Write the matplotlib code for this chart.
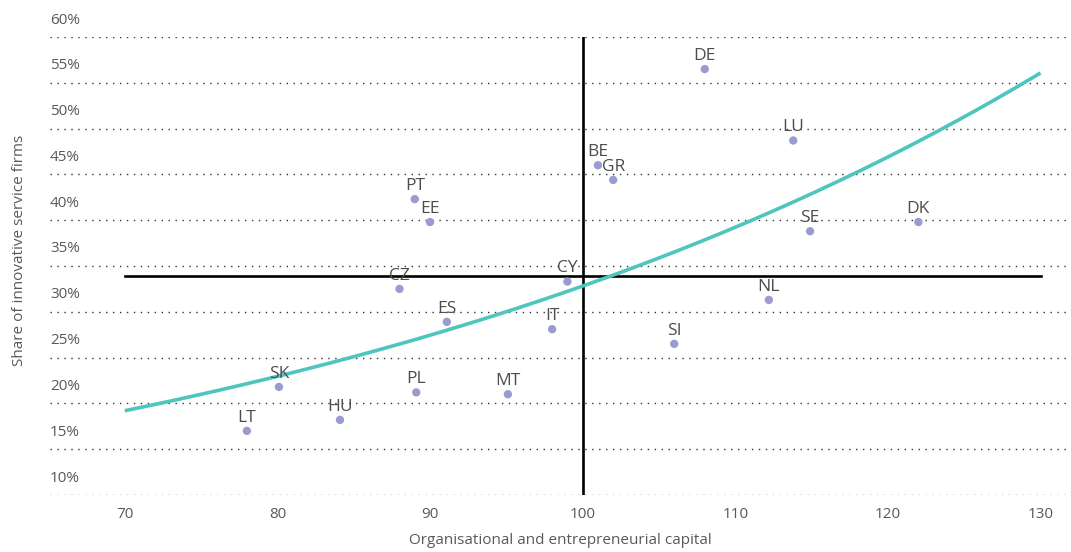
import matplotlib
matplotlib.use("Agg")
import matplotlib.pyplot as plt
import matplotlib.transforms as mtransforms
import numpy as np

# data
countries = ["DE", "LU", "BE", "GR", "PT", "EE", "SE", "DK", "CY", "CZ",
             "NL", "ES", "IT", "SI", "SK", "PL", "MT", "HU", "LT"]
org_capital = [108.0, 113.8, 101.0, 102.0, 89.0, 90.0, 114.9, 122.0, 99.0, 88.0,
               112.2, 91.1, 98.0, 106.0, 80.1, 89.1, 95.1, 84.1, 78.0]
innov_share = [56.5, 48.7, 46.0, 44.4, 42.3, 39.8, 38.8, 39.8, 33.3, 32.5,
               31.3, 28.9, 28.1, 26.5, 21.8, 21.2, 21.0, 18.2, 17.0]
y_ticks = [10, 15, 20, 25, 30, 35, 40, 45, 50, 55, 60]
x_ticks = [70, 80, 90, 100, 110, 120, 130]
x_ref = 100
y_ref = 33.9

plt.rcParams['font.family'] = ['Open Sans', 'DejaVu Sans']
text_col = "#595959"

fig = plt.figure(figsize=(10.71, 5.52), dpi=100)
ax = fig.add_axes([50 / 1071, 57 / 552, 1018 / 1071, 458 / 552])
ax.set_xlim(65.1, 131.8)
ax.set_ylim(10, 60)

# dotted gridlines
for v in y_ticks:
    ax.axhline(v, color="#333333", lw=1.0, ls=(0, (1, 4)), zorder=1)

# y tick labels sit above their gridline
trans = mtransforms.blended_transform_factory(ax.transAxes, ax.transData)
off = mtransforms.ScaledTranslation(0, 17 / 100, fig.dpi_scale_trans)
for v in y_ticks:
    ax.text(0, v, f"{v}%", transform=trans + off, ha="left", va="center",
            fontsize=11, color=text_col)

ax.set_yticks([])
ax.set_xticks(x_ticks)
ax.set_xticklabels([str(t) for t in x_ticks], fontsize=11, color=text_col)
ax.tick_params(axis="x", length=0, pad=9)
for s in ax.spines.values():
    s.set_visible(False)

# reference lines
ax.axvline(x_ref, color="black", lw=1.9, zorder=2)
ax.plot([70, 130], [y_ref, y_ref], color="black", lw=1.9, zorder=2)

# exponential trend fitted on the data
b, a = np.polyfit(org_capital, np.log(innov_share), 1)
xs = np.linspace(70, 130, 200)
ax.plot(xs, np.exp(a + b * xs), color="#4ec5be", lw=2.6, zorder=3,
        solid_capstyle="butt")

ax.scatter(org_capital, innov_share, s=36, color="#9a9bd1", zorder=4,
           edgecolors="none")
for c, x, y in zip(countries, org_capital, innov_share):
    ax.annotate(c, (x, y), xytext=(0, 9.5), textcoords="offset points",
                ha="center", va="center", fontsize=12.5, color="#4d4d4d",
                zorder=5)

fig.text(560 / 1071, 1 - 540 / 552, "Organisational and entrepreneurial capital",
         ha="center", va="center", fontsize=11, color=text_col)
fig.text(20 / 1071, 1 - 250 / 552, "Share of innovative service firms",
         ha="center", va="center", rotation=90, fontsize=11, color=text_col)

fig.savefig("out.png", dpi=100)
